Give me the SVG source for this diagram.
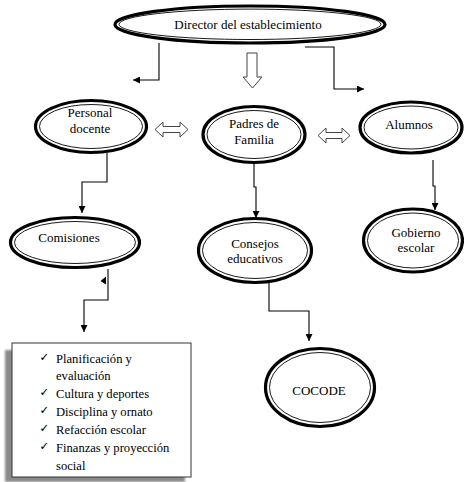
<svg xmlns="http://www.w3.org/2000/svg" width="464" height="482" viewBox="0 0 464 482">
<defs>
<marker id="ah" viewBox="0 0 10 10" refX="10" refY="5" markerWidth="7" markerHeight="7" markerUnits="userSpaceOnUse" orient="auto">
<path d="M0,0 L10,5 L0,10 Z" fill="#000"/>
</marker>
<filter id="blur" x="-10%" y="-10%" width="120%" height="120%"><feGaussianBlur stdDeviation="1"/></filter>
</defs>
<style>
.outer{fill:#fff;stroke:#000;stroke-width:3.2}
.inner{fill:none;stroke:#000;stroke-width:0.9}
.lbl{font-family:"Liberation Serif","Times New Roman",serif;font-size:13px;fill:#000;text-anchor:middle}
.item{font-family:"Liberation Serif","Times New Roman",serif;font-size:12.6px;fill:#000}
.chk{font-family:"DejaVu Sans",sans-serif;font-size:11.5px;font-weight:bold;fill:#000}
.conn{fill:none;stroke:#000;stroke-width:1.1}
.hollow{fill:#fff;stroke:#444;stroke-width:1}
</style>
<rect width="464" height="482" fill="#fff"/>

<g id="connectors">
<path class="conn" d="M159,43 V80 H133" marker-end="url(#ah)"/>
<path class="conn" d="M305,47 H334 V89 H364" marker-end="url(#ah)"/>
<path class="hollow" d="M247,53 H257 V77 H262 L252.5,88 L243,77 H247 Z"/>
<path class="hollow" d="M155,129.5 L163,122 V126.5 H180 V122 L188,129.5 L180,137 V132.5 H163 V137 Z"/>
<path class="hollow" d="M318,135.5 L326,128 V132.5 H342 V128 L350,135.5 L342,143 V138.5 H326 V143 Z"/>
<path class="conn" d="M107,153 V182 H82 V213" marker-end="url(#ah)"/>
<path class="conn" d="M254,164 V187 H256 V218" marker-end="url(#ah)"/>
<path class="conn" d="M433,160 V186 H435 V210" marker-end="url(#ah)"/>
<path class="conn" d="M108,269 V300 H84 V332" marker-end="url(#ah)"/>
<polygon points="100.5,281 106,276.5 106,284.5" fill="#000"/>
<path class="conn" d="M269,283 V311 H309 V341" marker-end="url(#ah)"/>
</g>

<g id="director">
<ellipse class="outer" cx="250" cy="24.5" rx="135" ry="18.5"/>
<ellipse class="inner" cx="250" cy="24.3" rx="131" ry="15.2"/>
<text class="lbl" x="248" y="28.5">Director del establecimiento</text>
</g>

<g id="personal">
<ellipse class="outer" cx="91" cy="126.5" rx="55.5" ry="26"/>
<ellipse class="inner" cx="91" cy="126.5" rx="51.5" ry="22"/>
<text class="lbl" x="90" y="117">Personal</text>
<text class="lbl" x="90" y="133">docente</text>
</g>

<g id="padres">
<ellipse class="outer" cx="254" cy="134.5" rx="51" ry="28"/>
<ellipse class="inner" cx="254" cy="134.5" rx="47" ry="24"/>
<text class="lbl" x="254" y="128">Padres de</text>
<text class="lbl" x="254" y="144">Familia</text>
</g>

<g id="alumnos">
<ellipse class="outer" cx="411" cy="127.5" rx="51" ry="25.5"/>
<ellipse class="inner" cx="411" cy="127.5" rx="47" ry="21.5"/>
<text class="lbl" x="409" y="129">Alumnos</text>
</g>

<g id="comisiones">
<ellipse class="outer" cx="75" cy="242.5" rx="64.5" ry="25"/>
<ellipse class="inner" cx="75" cy="242.5" rx="60.5" ry="21"/>
<text class="lbl" x="69" y="242">Comisiones</text>
</g>

<g id="consejos">
<ellipse class="outer" cx="255" cy="250.5" rx="56.5" ry="32"/>
<ellipse class="inner" cx="255" cy="250.5" rx="52.5" ry="28"/>
<text class="lbl" x="255" y="248">Consejos</text>
<text class="lbl" x="255" y="263">educativos</text>
</g>

<g id="gobierno">
<ellipse class="outer" cx="413" cy="240.5" rx="49.5" ry="31.5"/>
<ellipse class="inner" cx="413" cy="240.5" rx="45.5" ry="27.5"/>
<text class="lbl" x="416" y="237">Gobierno</text>
<text class="lbl" x="416" y="252">escolar</text>
</g>

<g id="cocode">
<ellipse class="outer" cx="320" cy="387.5" rx="54.5" ry="39"/>
<ellipse class="inner" cx="320" cy="387.5" rx="50.5" ry="35"/>
<text class="lbl" x="319" y="395">COCODE</text>
</g>

<g id="lista">
<rect x="5" y="350" width="180" height="132" fill="#8a8a8a" filter="url(#blur)"/>
<rect x="12" y="343" width="179" height="134" fill="#fff" stroke="#333" stroke-width="1"/>
<text class="chk" x="39.5" y="360.5">✓</text>
<text class="item" x="56" y="363">Planificación y</text>
<text class="item" x="56" y="380">evaluación</text>
<text class="chk" x="39.5" y="395.5">✓</text>
<text class="item" x="56" y="398">Cultura y deportes</text>
<text class="chk" x="39.5" y="413.5">✓</text>
<text class="item" x="56" y="416">Disciplina y ornato</text>
<text class="chk" x="39.5" y="431.5">✓</text>
<text class="item" x="56" y="434">Refacción escolar</text>
<text class="chk" x="39.5" y="449.5">✓</text>
<text class="item" x="56" y="452">Finanzas y proyección</text>
<text class="item" x="56" y="470">social</text>
</g>
</svg>
